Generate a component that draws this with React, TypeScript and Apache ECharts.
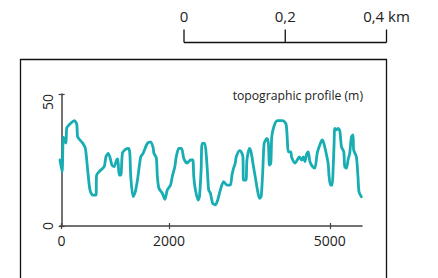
import React, { useEffect, useRef } from "react";
import * as echarts from "echarts";

const distance: number[] = [
  -30, 9, 33, 70, 83, 96, 176, 237, 282, 301, 393, 442, 486, 529, 579, 640, 653, 701, 794, 826,
  868, 905, 937, 980, 1024, 1048, 1072, 1104, 1135, 1197, 1247, 1271, 1289, 1332, 1369, 1414, 1475, 1518, 1599, 1660,
  1703, 1722, 1766, 1785, 1814, 1878, 1926, 1970, 2031, 2063, 2111, 2137, 2186, 2236, 2278, 2341, 2403, 2445, 2464, 2495,
  2545, 2570, 2601, 2620, 2668, 2699, 2724, 2742, 2774, 2816, 2866, 2909, 2959, 3020, 3083, 3145, 3176, 3206, 3237, 3256,
  3317, 3349, 3380, 3391, 3436, 3455, 3503, 3534, 3577, 3609, 3651, 3688, 3720, 3751, 3776, 3826, 3855, 3874, 3900, 3918,
  3961, 4022, 4122, 4184, 4208, 4226, 4271, 4289, 4351, 4393, 4430, 4475, 4505, 4536, 4568, 4597, 4629, 4679, 4722, 4764,
  4801, 4857, 4889, 4926, 4968, 4987, 5013, 5043, 5061, 5080, 5093, 5124, 5154, 5186, 5217, 5260, 5278, 5310, 5340, 5371,
  5403, 5432, 5445, 5495, 5525, 5544, 5588,
];

const elevation: number[] = [
  25.0, 20.5, 33.7, 31.8, 31.4, 37.1, 39.0, 39.9, 38.6, 33.7, 31.4, 29.5, 21.2, 13.6, 11.7, 11.7, 19.3, 20.6, 22.5, 26.2,
  27.5, 25.8, 23.1, 22.5, 25.0, 25.4, 19.3, 19.3, 27.7, 29.1, 29.4, 27.7, 18.7, 11.1, 12.6, 17.4, 26.2, 27.5, 31.3, 31.9,
  30.0, 27.5, 25.8, 18.7, 14.3, 12.4, 10.1, 13.6, 15.5, 18.7, 22.5, 26.2, 29.4, 29.4, 25.6, 23.8, 25.0, 25.0, 18.7, 13.6,
  9.8, 11.1, 21.2, 31.3, 31.3, 26.2, 18.7, 13.6, 12.4, 8.6, 8.0, 9.8, 13.6, 16.8, 15.5, 15.5, 19.3, 21.9, 23.8, 26.2,
  28.5, 28.1, 26.2, 17.4, 17.4, 25.0, 29.4, 27.8, 22.5, 18.7, 13.6, 10.5, 11.1, 21.2, 31.3, 33.2, 31.3, 23.1, 23.8, 33.8,
  37.9, 39.9, 39.9, 38.6, 32.6, 28.1, 28.1, 26.0, 23.8, 25.0, 26.2, 25.0, 26.2, 24.4, 27.3, 28.1, 24.4, 22.5, 21.9, 27.5,
  30.0, 32.6, 31.3, 28.1, 23.8, 18.7, 15.5, 15.5, 21.2, 31.3, 37.0, 36.4, 37.0, 36.1, 30.0, 28.1, 22.5, 21.9, 25.0, 27.5,
  33.8, 34.5, 28.8, 26.2, 18.7, 13.0, 11.1,
];

const xTicks: number[] = [0, 2000, 5000];
const yTicks: number[] = [0, 50];
const scaleLabels: string[] = ["0", "0,2", "0,4 km"];
const titleText = "topographic profile (m)";

const FONT = "'Open Sans', sans-serif";
const INK = "#222222";
const AXIS = "#444444";
const TEAL = "#17adb2";

export default function App() {
  const ref = useRef<HTMLDivElement>(null);

  useEffect(() => {
    if (!ref.current) return;
    const chart = echarts.init(ref.current, null, { renderer: "svg" });

    const sbLeft = 184;
    const sbRight = 386.5;
    const sbMid = (sbLeft + sbRight) / 2;
    const sbX = [sbLeft, sbMid, sbRight];
    const sbY = 42.5;
    const sbTop = 29.5;

    const graphic: any[] = [
      {
        type: "rect",
        shape: { x: 20.5, y: 59.5, width: 366, height: 300 },
        style: { fill: "none", stroke: "#111", lineWidth: 1.3 },
        silent: true,
      },
      {
        type: "line",
        shape: { x1: sbLeft, y1: sbY, x2: sbRight, y2: sbY },
        style: { stroke: "#111", lineWidth: 1.3 },
      },
      ...sbX.map((x) => ({
        type: "line",
        shape: { x1: x, y1: sbTop, x2: x, y2: sbY },
        style: { stroke: "#111", lineWidth: 1.3 },
      })),
      ...scaleLabels.map((t, i) => ({
        type: "text",
        x: sbX[i],
        y: 16,
        style: {
          text: t,
          fill: INK,
          fontFamily: FONT,
          fontSize: 15,
          align: "center",
          verticalAlign: "middle",
        },
      })),
    ];

    const gridLeft = 60;
    const gridRight = 438 - 362;
    const gridTop = 94;
    const gridBottom = 278 - 226;

    chart.setOption({
      animation: false,
      title: {
        text: titleText,
        right: 75,
        top: 89,
        padding: 0,
        textStyle: { fontFamily: FONT, fontSize: 12.2, fontWeight: "normal", color: INK },
      },
      grid: { left: gridLeft, right: gridRight, top: gridTop, bottom: gridBottom },
      xAxis: [
        {
          type: "value",
          min: -30,
          max: 5600,
          splitLine: { show: false },
          axisLine: { show: true, lineStyle: { color: AXIS, width: 1.5 } },
          axisTick: { show: true, inside: false, length: 3, customValues: xTicks, lineStyle: { color: AXIS, width: 1.2 } },
          axisLabel: {
            customValues: xTicks,
            margin: 7,
            color: INK,
            fontFamily: FONT,
            fontSize: 14,
            formatter: (v: number) => String(v),
          },
        },
        {
          type: "value",
          min: -30,
          max: 5600,
          position: "bottom",
          splitLine: { show: false },
          axisLine: { show: false },
          axisTick: { show: true, inside: true, length: 3, customValues: xTicks, lineStyle: { color: AXIS, width: 1.2 } },
          axisLabel: { show: false },
        },
      ],
      yAxis: [
        {
          type: "value",
          min: 0,
          max: 50,
          interval: 50,
          splitLine: { show: false },
          axisLine: { show: true, lineStyle: { color: AXIS, width: 1.5 } },
          axisTick: { show: true, inside: false, length: 3, lineStyle: { color: AXIS, width: 1.2 } },
          axisLabel: {
            rotate: 90,
            margin: 6,
            color: INK,
            fontFamily: FONT,
            fontSize: 14,
            alignMaxLabel: "right",
            customValues: yTicks,
          },
        },
        {
          type: "value",
          min: 0,
          max: 50,
          interval: 50,
          position: "left",
          splitLine: { show: false },
          axisLine: { show: false },
          axisTick: { show: true, inside: true, length: 3, lineStyle: { color: AXIS, width: 1.2 } },
          axisLabel: { show: false },
        },
      ],
      series: [
        {
          type: "line",
          xAxisIndex: 0,
          yAxisIndex: 0,
          data: distance.map((d, i) => [d, elevation[i]]),
          showSymbol: false,
          smooth: 0.25,
          lineStyle: { color: TEAL, width: 2.8, cap: "round", join: "round" },
        },
      ],
      graphic,
    });

    return () => chart.dispose();
  }, []);

  return (
    <div
      ref={ref}
      style={{ position: "absolute", left: 0, top: 0, width: 438, height: 278, background: "#fff" }}
    />
  );
}
